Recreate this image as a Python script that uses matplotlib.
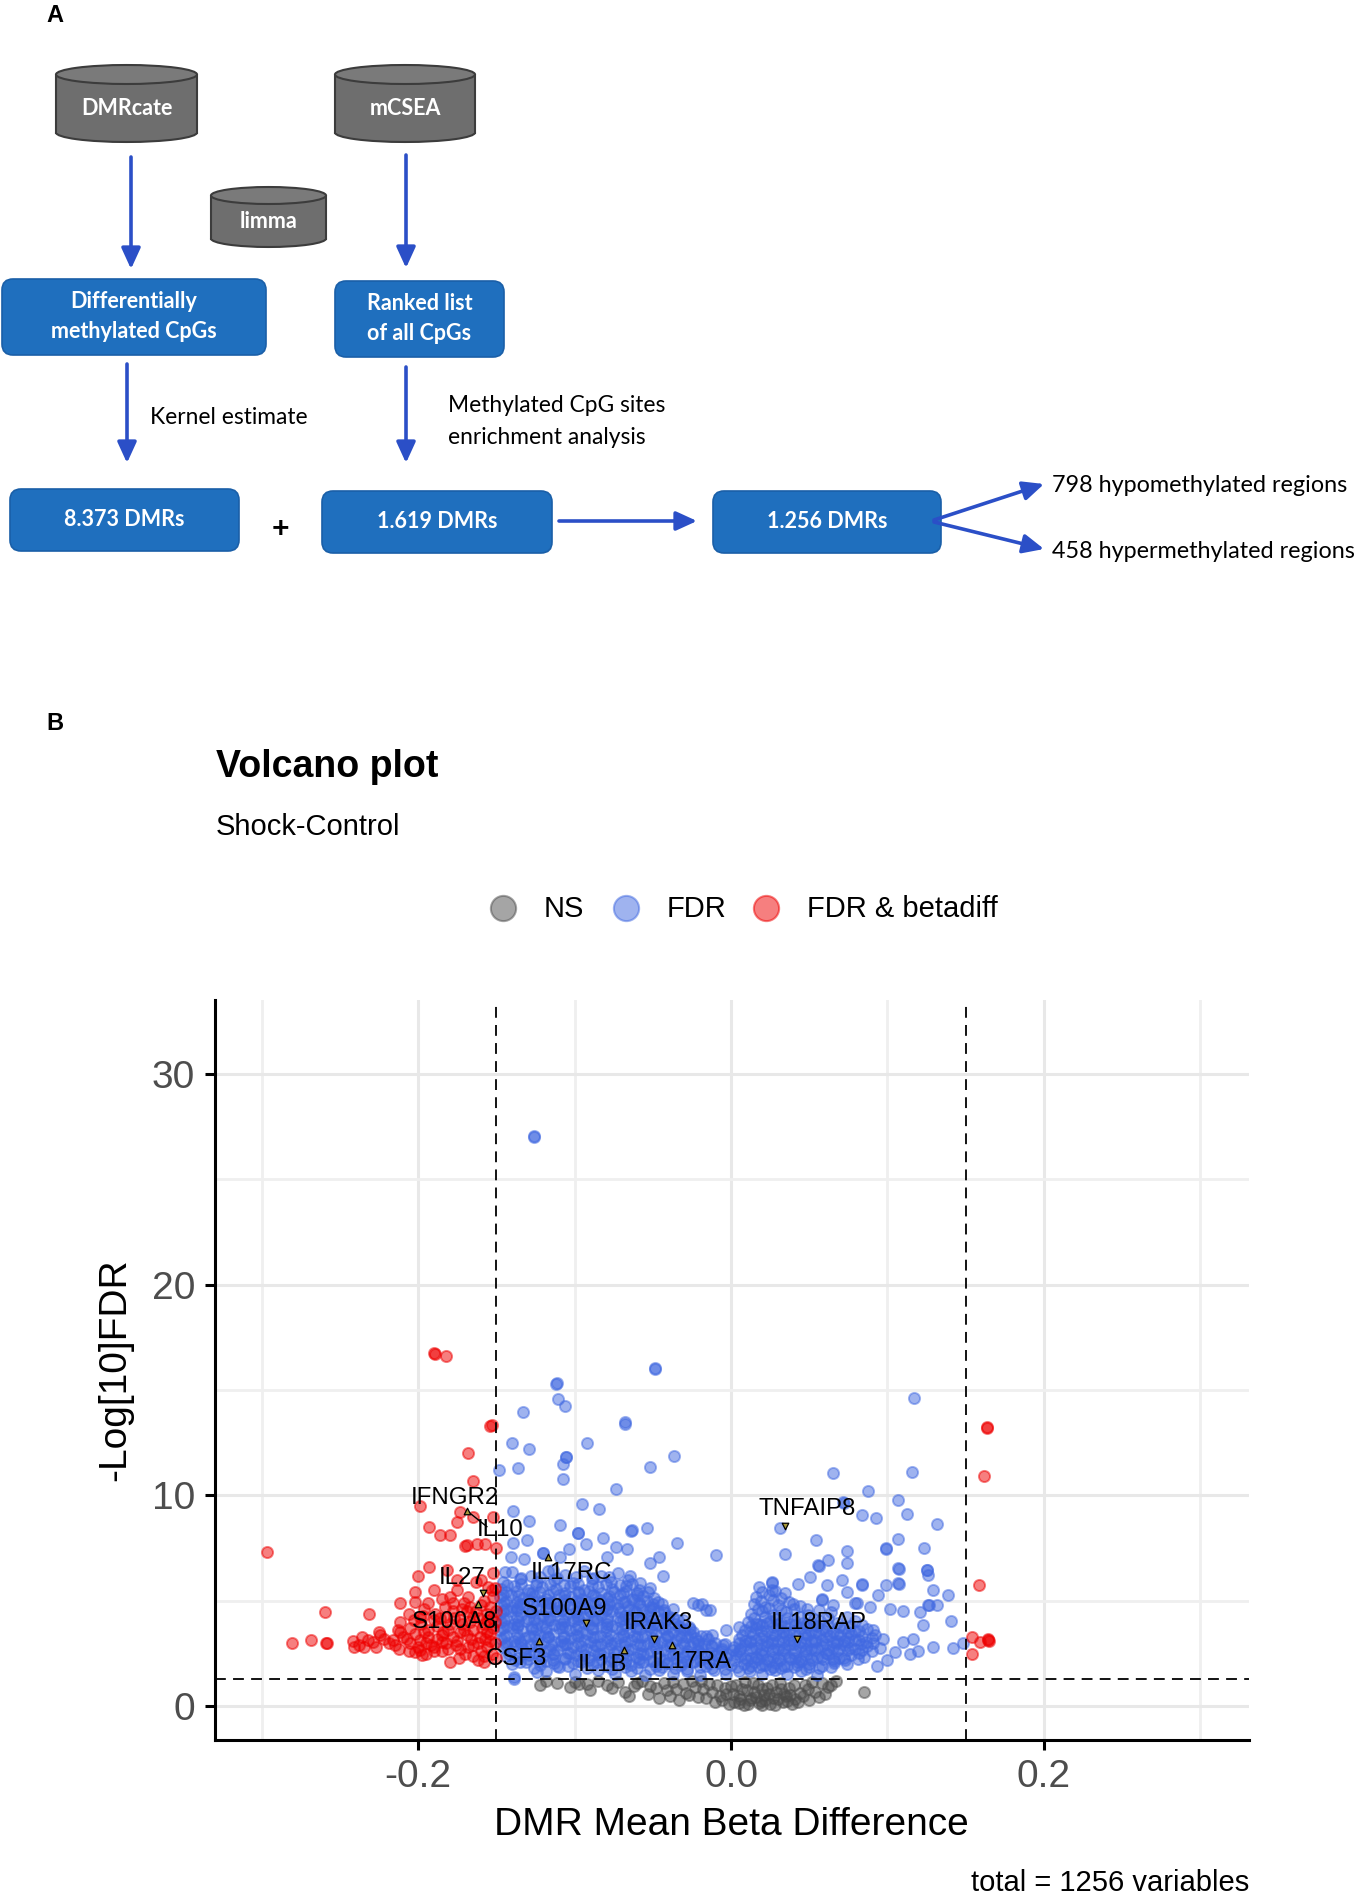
import matplotlib
matplotlib.use("Agg")
import matplotlib.pyplot as plt
from matplotlib.patches import Ellipse, Rectangle, FancyBboxPatch

plt.rcParams['font.family'] = ['Liberation Sans', 'DejaVu Sans']
plt.rcParams['axes.unicode_minus'] = False

# ---------------- data ----------------
categories = ["NS", "FDR", "FDR & betadiff"]
colors = {"NS": "#4D4D4D", "FDR": "#4169E1", "FDR & betadiff": "#EE0000"}

red_pts = [
    (-0.189, 16.7), (-0.190, 16.75), (-0.182, 16.6), (-0.154, 13.3), (-0.153, 13.35), (-0.168, 12.0),
    (-0.165, 10.7), (-0.199, 9.5), (-0.173, 9.23), (-0.1647, 9.0), (-0.152, 9.0), (-0.1929, 8.52),
    (-0.1862, 8.13), (-0.180, 8.13), (-0.1754, 8.76), (-0.169, 7.64), (-0.170, 7.6), (-0.1626, 7.72),
    (-0.1573, 7.72), (-0.150, 7.5), (-0.297, 7.33), (-0.1929, 6.62), (-0.200, 6.18), (-0.1818, 6.47),
    (-0.1754, 6.0), (-0.152, 6.3), (-0.1556, 5.67), (-0.2021, 5.43), (-0.190, 5.5), (-0.2115, 4.88),
    (-0.2021, 4.96), (-0.1935, 4.88), (-0.185, 5.1), (-0.1775, 4.88), (-0.171, 4.88), (-0.1668, 4.73),
    (-0.158, 5.0), (-0.154, 4.7), (-0.2596, 4.48), (-0.2313, 4.37), (-0.2117, 4.0), (-0.206, 4.4),
    (-0.1988, 4.25), (-0.190, 4.1), (-0.182, 4.25), (-0.1733, 4.1), (-0.165, 4.25), (-0.156, 4.1),
    (-0.152, 3.7), (-0.2115, 3.53), (-0.2021, 3.45), (-0.1935, 3.3), (-0.185, 3.37), (-0.1775, 3.3),
    (-0.169, 3.37), (-0.1605, 3.3), (-0.154, 3.45), (-0.2809, 3.0), (-0.2687, 3.14), (-0.2589, 2.98),
    (-0.2585, 3.0), (-0.232, 3.14), (-0.2345, 2.82), (-0.2286, 3.06), (-0.2243, 3.37), (-0.2162, 3.14),
    (-0.2053, 2.98), (-0.1988, 2.66), (-0.190, 2.82), (-0.182, 2.98), (-0.1733, 2.74), (-0.165, 2.9),
    (-0.156, 2.82), (-0.2021, 2.58), (-0.1977, 2.42), (-0.1796, 2.1), (-0.162, 2.2), (-0.153, 2.5),
    (-0.195, 3.0), (-0.185, 2.6), (-0.175, 3.1), (-0.165, 3.6), (-0.158, 3.9), (-0.188, 3.8),
    (-0.178, 4.5), (-0.168, 5.2), (-0.152, 5.2), (-0.160, 6.0), (-0.151, 4.0), (-0.151, 3.0),
    (-0.215, 2.9), (-0.222, 3.2), (-0.236, 3.3), (-0.238, 2.9), (-0.171, 3.6), (-0.194, 3.6),
    (-0.160, 2.6), (-0.185, 3.05), (-0.207, 3.2), (-0.157, 3.2),
    (-0.205, 3.7), (-0.198, 3.9), (-0.189, 4.4), (-0.181, 3.6), (-0.172, 3.9), (-0.163, 4.5),
    (-0.156, 4.4), (-0.150, 4.5), (-0.210, 3.3), (-0.199, 3.15), (-0.190, 2.6), (-0.181, 2.7),
    (-0.170, 2.5), (-0.158, 2.4), (-0.150, 2.3), (-0.212, 2.7), (-0.219, 3.0), (-0.227, 2.8),
    (-0.242, 3.1), (-0.241, 2.8), (-0.225, 3.5), (-0.167, 4.0), (-0.175, 5.5), (-0.163, 5.9),
    (-0.151, 5.6), (-0.172, 4.6), (-0.183, 4.7), (-0.196, 4.6), (-0.156, 3.5), (-0.162, 3.0),
    (-0.203, 4.1), (-0.196, 3.5), (-0.188, 3.2), (-0.180, 3.9), (-0.173, 3.5), (-0.166, 3.2),
    (-0.159, 3.7), (-0.153, 4.2), (-0.200, 2.8), (-0.192, 2.9), (-0.184, 3.5), (-0.176, 2.9),
    (-0.168, 2.8), (-0.161, 4.2), (-0.154, 3.1), (-0.197, 4.3), (-0.186, 4.2), (-0.177, 4.2),
    (-0.169, 4.5), (-0.160, 4.8), (-0.153, 5.5), (-0.180, 5.2), (-0.206, 2.6), (-0.213, 3.6),
    (-0.195, 2.5), (-0.174, 2.3), (-0.165, 2.4), (-0.158, 2.1),
    (0.1635, 13.24), (0.1637, 13.2), (0.1618, 10.94), (0.1588, 5.75), (0.154, 3.29), (0.1646, 3.14),
    (0.1650, 3.1), (0.1642, 3.18), (0.159, 3.06), (0.154, 2.5),
]

blue_pts = [
    # scattered, upper region
    (-0.126, 27.0), (-0.1262, 27.05), (-0.0486, 16.04), (-0.0488, 16.0), (-0.1115, 15.33), (-0.1117, 15.3),
    (-0.1104, 14.57), (-0.1061, 14.25), (-0.1332, 13.98), (-0.0678, 13.46), (-0.0680, 13.4), (-0.1403, 12.5),
    (-0.1291, 12.2), (-0.0920, 12.48), (-0.1055, 11.82), (-0.1057, 11.8), (-0.1077, 11.5), (-0.0362, 11.88),
    (-0.0519, 11.33), (-0.1483, 11.2), (-0.1364, 11.3), (-0.1073, 10.8), (-0.0735, 10.3), (-0.0951, 9.59),
    (-0.0842, 9.35), (-0.1396, 9.24), (-0.1291, 8.8), (-0.1095, 8.6), (-0.0977, 8.23), (-0.0979, 8.2),
    (-0.0816, 8.0), (-0.0635, 8.35), (-0.0637, 8.3), (-0.0540, 8.45), (-0.0345, 7.73), (-0.1392, 7.75),
    (-0.1306, 7.87), (-0.1200, 7.28), (-0.1202, 7.25), (-0.1035, 7.47), (-0.0925, 7.68), (-0.0735, 7.55),
    (-0.0665, 7.44), (-0.0460, 7.06), (-0.141, 7.1), (-0.1326, 7.0), (-0.1095, 7.1), (-0.0795, 7.1),
    (-0.0519, 6.8), (-0.1445, 6.38), (-0.114, 6.44), (-0.0646, 6.2), (-0.0438, 6.2), (-0.0208, 4.8),
    (-0.0099, 7.17), (-0.0245, 4.88), (-0.016, 4.56), (-0.0032, 3.6), (0.0053, 3.75), (-0.1386, 1.38),
    (-0.124, 1.63), (-0.139, 1.31), (-0.1115, 1.9), (-0.0188, 4.86), (-0.0134, 4.55),
    (0.117, 14.62), (0.065, 11.08), (0.1159, 11.1), (0.0878, 10.2), (0.107, 9.8), (0.0718, 9.7),
    (0.0720, 9.65), (0.0835, 9.08), (0.0927, 8.93), (0.1123, 9.12), (0.1319, 8.65), (0.0313, 8.44),
    (0.0541, 7.89), (0.1065, 7.94), (0.099, 7.5), (0.0992, 7.45), (0.1235, 7.5), (0.0739, 7.38),
    (0.0345, 7.2), (0.0623, 6.94), (0.0744, 6.81), (0.0559, 6.68), (0.0561, 6.65), (0.1070, 6.55),
    (0.1072, 6.5), (0.1251, 6.47), (0.1253, 6.45), (0.126, 6.24), (0.026, 5.9), (0.0262, 5.85),
    (0.0431, 5.78), (0.0505, 6.14), (0.0612, 5.74), (0.0708, 5.98), (0.0835, 5.78), (0.0837, 5.75),
    (0.099, 5.74), (0.107, 5.85), (0.1072, 5.8), (0.1294, 5.5), (0.1390, 5.27), (0.0345, 5.35),
    (0.0580, 5.1), (0.0582, 5.05), (0.0739, 5.4), (0.0942, 5.26), (0.1262, 4.82), (0.1264, 4.8),
    (0.1315, 4.78), (0.0399, 4.86), (0.0484, 4.6), (0.0654, 4.78), (0.0803, 4.92), (0.0889, 4.7),
    (0.1017, 4.62), (0.1102, 4.53), (0.1209, 4.47), (0.1406, 4.04), (0.1230, 3.85), (0.1294, 2.82),
    (0.1422, 2.75), (0.1486, 2.98), (0.1145, 2.5), (0.1198, 2.62), (0.1161, 3.21), (0.0974, 3.21),
    (0.0911, 3.6), (0.1100, 3.06), (0.0995, 2.2), (0.1049, 2.58), (0.0931, 1.89), (0.0740, 2.0),
    (0.0790, 4.91),
    # dense left cluster
    (-0.140, 6.35), (-0.128, 6.2), (-0.117, 6.4), (-0.106, 6.25), (-0.094, 6.4), (-0.083, 6.2), (-0.072, 6.3),
    (-0.134, 6.1), (-0.122, 6.15), (-0.111, 6.1), (-0.099, 6.15), (-0.088, 6.1), (-0.078, 6.15),
    (-0.146, 5.9), (-0.135, 6.05), (-0.124, 5.9), (-0.113, 6.0), (-0.101, 5.85), (-0.089, 6.05), (-0.077, 5.9),
    (-0.066, 6.0), (-0.058, 5.85),
    (-0.143, 5.75), (-0.134, 5.8), (-0.125, 5.75), (-0.116, 5.8), (-0.107, 5.75), (-0.098, 5.8), (-0.089, 5.75),
    (-0.080, 5.8), (-0.071, 5.75), (-0.063, 5.8),
    (-0.147, 5.55), (-0.139, 5.7), (-0.130, 5.5), (-0.121, 5.65), (-0.112, 5.55), (-0.103, 5.7), (-0.094, 5.5),
    (-0.085, 5.65), (-0.076, 5.55), (-0.067, 5.7), (-0.059, 5.5), (-0.052, 5.6),
    (-0.144, 5.4), (-0.137, 5.45), (-0.129, 5.35), (-0.122, 5.4), (-0.114, 5.45), (-0.106, 5.35), (-0.098, 5.4),
    (-0.091, 5.45), (-0.083, 5.35), (-0.075, 5.4), (-0.067, 5.45), (-0.060, 5.35), (-0.053, 5.4),
    (-0.146, 5.3), (-0.136, 5.25), (-0.127, 5.35), (-0.117, 5.3), (-0.107, 5.25), (-0.097, 5.35), (-0.088, 5.3),
    (-0.078, 5.25), (-0.069, 5.35), (-0.060, 5.3),
    (-0.148, 5.2), (-0.141, 5.3), (-0.133, 5.15), (-0.126, 5.25), (-0.118, 5.1), (-0.110, 5.3), (-0.102, 5.2),
    (-0.095, 5.1), (-0.087, 5.25), (-0.079, 5.15), (-0.071, 5.3), (-0.063, 5.1), (-0.056, 5.25), (-0.049, 5.15),
    (-0.144, 5.0), (-0.137, 4.95), (-0.129, 5.05), (-0.121, 5.0), (-0.114, 4.95), (-0.106, 5.05), (-0.099, 5.0),
    (-0.092, 4.95), (-0.084, 5.05), (-0.077, 5.0), (-0.069, 4.95), (-0.062, 5.05), (-0.054, 5.0), (-0.047, 4.95),
    (-0.145, 4.9), (-0.135, 4.85), (-0.126, 4.95), (-0.116, 4.9), (-0.107, 4.85), (-0.097, 4.95), (-0.087, 4.9),
    (-0.078, 4.85), (-0.068, 4.95), (-0.059, 4.9), (-0.050, 4.85),
    (-0.147, 4.8), (-0.140, 4.7), (-0.133, 4.85), (-0.125, 4.75), (-0.117, 4.9), (-0.110, 4.7), (-0.103, 4.85),
    (-0.096, 4.75), (-0.088, 4.9), (-0.081, 4.7), (-0.073, 4.85), (-0.066, 4.75), (-0.058, 4.8), (-0.051, 4.7),
    (-0.044, 4.85),
    (-0.144, 4.6), (-0.137, 4.65), (-0.130, 4.55), (-0.123, 4.6), (-0.116, 4.65), (-0.108, 4.55), (-0.101, 4.6),
    (-0.094, 4.65), (-0.086, 4.55), (-0.079, 4.6), (-0.072, 4.65), (-0.065, 4.55), (-0.057, 4.6), (-0.050, 4.65),
    (-0.043, 4.55), (-0.037, 4.6),
    (-0.146, 4.5), (-0.137, 4.55), (-0.128, 4.45), (-0.118, 4.5), (-0.109, 4.55), (-0.099, 4.45), (-0.090, 4.5),
    (-0.080, 4.55), (-0.071, 4.45), (-0.062, 4.5), (-0.052, 4.55), (-0.043, 4.45),
    (-0.148, 4.4), (-0.141, 4.5), (-0.134, 4.35), (-0.127, 4.45), (-0.120, 4.3), (-0.112, 4.5), (-0.105, 4.4),
    (-0.098, 4.3), (-0.090, 4.45), (-0.083, 4.35), (-0.076, 4.5), (-0.068, 4.3), (-0.061, 4.45), (-0.054, 4.35),
    (-0.047, 4.5), (-0.040, 4.3),
    (-0.144, 4.2), (-0.137, 4.25), (-0.130, 4.15), (-0.123, 4.2), (-0.116, 4.25), (-0.108, 4.15), (-0.101, 4.2),
    (-0.094, 4.25), (-0.087, 4.15), (-0.079, 4.2), (-0.072, 4.25), (-0.065, 4.15), (-0.058, 4.2), (-0.051, 4.25),
    (-0.044, 4.15), (-0.037, 4.2), (-0.031, 4.1),
    (-0.145, 4.1), (-0.136, 4.05), (-0.126, 4.15), (-0.117, 4.1), (-0.107, 4.05), (-0.098, 4.15), (-0.088, 4.1),
    (-0.079, 4.05), (-0.069, 4.15), (-0.060, 4.1), (-0.051, 4.05), (-0.041, 4.15), (-0.034, 4.1),
    (-0.147, 4.0), (-0.139, 3.9), (-0.131, 4.05), (-0.124, 3.95), (-0.116, 4.1), (-0.109, 3.9), (-0.101, 4.05),
    (-0.094, 3.95), (-0.086, 4.1), (-0.079, 3.9), (-0.071, 4.05), (-0.064, 3.95), (-0.057, 4.1), (-0.050, 3.9),
    (-0.043, 4.0), (-0.036, 3.9),
    (-0.143, 3.8), (-0.136, 3.85), (-0.128, 3.75), (-0.121, 3.8), (-0.113, 3.85), (-0.106, 3.75), (-0.098, 3.8),
    (-0.091, 3.85), (-0.083, 3.75), (-0.076, 3.8), (-0.068, 3.85), (-0.061, 3.75), (-0.054, 3.8), (-0.047, 3.85),
    (-0.040, 3.75), (-0.033, 3.8), (-0.027, 3.75),
    (-0.146, 3.7), (-0.137, 3.75), (-0.127, 3.65), (-0.118, 3.7), (-0.108, 3.75), (-0.099, 3.65), (-0.089, 3.7),
    (-0.080, 3.75), (-0.070, 3.65), (-0.061, 3.7), (-0.052, 3.75), (-0.042, 3.65), (-0.033, 3.7), (-0.026, 3.65),
    (-0.148, 3.6), (-0.140, 3.7), (-0.133, 3.55), (-0.125, 3.65), (-0.118, 3.5), (-0.110, 3.7), (-0.103, 3.6),
    (-0.095, 3.5), (-0.088, 3.65), (-0.080, 3.55), (-0.073, 3.7), (-0.065, 3.5), (-0.058, 3.65), (-0.051, 3.55),
    (-0.044, 3.7), (-0.037, 3.5), (-0.030, 3.6), (-0.024, 3.5),
    (-0.144, 3.4), (-0.137, 3.45), (-0.129, 3.35), (-0.122, 3.4), (-0.114, 3.45), (-0.107, 3.35), (-0.099, 3.4),
    (-0.092, 3.45), (-0.084, 3.35), (-0.077, 3.4), (-0.069, 3.45), (-0.062, 3.35), (-0.055, 3.4), (-0.048, 3.45),
    (-0.040, 3.35), (-0.033, 3.4), (-0.026, 3.45), (-0.019, 3.35), (-0.012, 3.4),
    (-0.145, 3.3), (-0.136, 3.25), (-0.126, 3.35), (-0.117, 3.3), (-0.107, 3.25), (-0.098, 3.35), (-0.088, 3.3),
    (-0.079, 3.25), (-0.069, 3.35), (-0.060, 3.3), (-0.050, 3.25), (-0.041, 3.35), (-0.032, 3.3), (-0.023, 3.25),
    (-0.016, 3.35),
    (-0.147, 3.2), (-0.139, 3.1), (-0.132, 3.25), (-0.124, 3.15), (-0.117, 3.3), (-0.109, 3.1), (-0.102, 3.25),
    (-0.094, 3.15), (-0.087, 3.3), (-0.079, 3.1), (-0.072, 3.25), (-0.064, 3.15), (-0.057, 3.3), (-0.049, 3.1),
    (-0.042, 3.25), (-0.035, 3.15), (-0.028, 3.3), (-0.021, 3.1), (-0.015, 3.2),
    (-0.143, 3.0), (-0.135, 3.05), (-0.128, 2.95), (-0.120, 3.0), (-0.113, 3.05), (-0.105, 2.95), (-0.098, 3.0),
    (-0.090, 3.05), (-0.083, 2.95), (-0.075, 3.0), (-0.068, 3.05), (-0.060, 2.95), (-0.053, 3.0), (-0.045, 3.05),
    (-0.038, 2.95), (-0.031, 3.0), (-0.024, 3.05), (-0.017, 2.95), (-0.010, 3.0), (-0.004, 2.95),
    (-0.144, 2.9), (-0.134, 2.95), (-0.125, 2.85), (-0.115, 2.9), (-0.106, 2.95), (-0.096, 2.85), (-0.087, 2.9),
    (-0.077, 2.95), (-0.068, 2.85), (-0.058, 2.9), (-0.049, 2.95), (-0.039, 2.85), (-0.030, 2.9), (-0.021, 2.95),
    (-0.013, 2.85), (-0.005, 2.9),
    (-0.146, 2.8), (-0.138, 2.9), (-0.131, 2.75), (-0.123, 2.85), (-0.116, 2.7), (-0.108, 2.9), (-0.101, 2.8),
    (-0.093, 2.7), (-0.086, 2.85), (-0.078, 2.75), (-0.071, 2.9), (-0.063, 2.7), (-0.056, 2.85), (-0.048, 2.75),
    (-0.041, 2.9), (-0.034, 2.7), (-0.026, 2.85), (-0.019, 2.75), (-0.012, 2.85), (-0.006, 2.7),
    (-0.141, 2.6), (-0.133, 2.65), (-0.126, 2.55), (-0.118, 2.6), (-0.111, 2.65), (-0.103, 2.55), (-0.096, 2.6),
    (-0.088, 2.65), (-0.081, 2.55), (-0.073, 2.6), (-0.066, 2.65), (-0.058, 2.55), (-0.051, 2.6), (-0.043, 2.65),
    (-0.036, 2.55), (-0.028, 2.6), (-0.021, 2.65), (-0.013, 2.55), (-0.006, 2.6), (0.001, 2.65),
    (-0.142, 2.5), (-0.132, 2.55), (-0.123, 2.45), (-0.113, 2.5), (-0.104, 2.55), (-0.094, 2.45), (-0.085, 2.5),
    (-0.075, 2.55), (-0.066, 2.45), (-0.056, 2.5), (-0.047, 2.55), (-0.037, 2.45), (-0.028, 2.5), (-0.019, 2.55),
    (-0.010, 2.45), (-0.002, 2.5),
    (-0.144, 2.4), (-0.136, 2.3), (-0.129, 2.45), (-0.121, 2.35), (-0.114, 2.5), (-0.106, 2.3), (-0.099, 2.45),
    (-0.091, 2.35), (-0.084, 2.5), (-0.076, 2.3), (-0.069, 2.45), (-0.061, 2.35), (-0.054, 2.5), (-0.046, 2.3),
    (-0.039, 2.45), (-0.031, 2.35), (-0.024, 2.5), (-0.016, 2.3), (-0.009, 2.45), (-0.003, 2.35), (0.003, 2.5),
    (-0.138, 2.2), (-0.130, 2.25), (-0.122, 2.15), (-0.114, 2.2), (-0.106, 2.25), (-0.098, 2.15), (-0.091, 2.2),
    (-0.083, 2.25), (-0.075, 2.15), (-0.067, 2.2), (-0.059, 2.25), (-0.051, 2.15), (-0.043, 2.2), (-0.035, 2.25),
    (-0.028, 2.15), (-0.020, 2.2), (-0.012, 2.25), (-0.005, 2.15), (0.002, 2.2),
    (-0.135, 2.1), (-0.118, 2.15), (-0.101, 2.05), (-0.086, 2.1), (-0.077, 2.15), (-0.068, 2.05), (-0.059, 2.1),
    (-0.050, 2.15), (-0.041, 2.05), (-0.032, 2.1), (-0.023, 2.15), (-0.014, 2.05), (-0.005, 2.1),
    (-0.140, 2.0), (-0.131, 2.1), (-0.122, 1.95), (-0.113, 2.05), (-0.104, 1.9), (-0.096, 2.1), (-0.088, 2.0),
    (-0.080, 1.9), (-0.072, 2.05), (-0.064, 1.95), (-0.056, 2.1), (-0.048, 1.9), (-0.040, 2.05), (-0.032, 1.95),
    (-0.024, 2.1), (-0.016, 1.9), (-0.008, 2.05), (0.000, 1.95),
    (-0.126, 1.8), (-0.110, 1.85), (-0.092, 1.8), (-0.076, 1.75), (-0.068, 1.85), (-0.060, 1.8), (-0.052, 1.75),
    (-0.044, 1.85), (-0.036, 1.8), (-0.028, 1.75), (-0.020, 1.85), (-0.012, 1.8), (-0.004, 1.75), (0.004, 1.85),
    (-0.118, 1.65), (-0.100, 1.55), (-0.085, 1.7), (-0.074, 1.55), (-0.064, 1.65), (-0.055, 1.5), (-0.046, 1.7),
    (-0.037, 1.55), (-0.028, 1.65), (-0.020, 1.5), (-0.011, 1.7), (-0.003, 1.55), (0.005, 1.65),
    # dense right cluster
    (0.018, 5.65), (0.026, 5.5),
    (0.020, 5.4), (0.028, 5.45),
    (0.016, 5.2), (0.024, 5.3), (0.032, 5.15),
    (0.019, 5.0), (0.027, 5.05), (0.037, 4.95),
    (0.015, 4.85), (0.022, 4.7), (0.030, 4.8), (0.044, 4.75),
    (0.017, 4.6), (0.024, 4.65), (0.032, 4.55), (0.040, 4.6), (0.056, 4.55),
    (0.013, 4.4), (0.020, 4.5), (0.027, 4.35), (0.035, 4.45), (0.049, 4.35), (0.064, 4.45),
    (0.015, 4.2), (0.022, 4.25), (0.029, 4.15), (0.036, 4.2), (0.044, 4.25), (0.053, 4.15), (0.062, 4.2),
    (0.074, 4.25),
    (0.011, 4.0), (0.018, 3.9), (0.025, 4.05), (0.032, 3.95), (0.040, 4.1), (0.048, 3.9), (0.057, 4.05),
    (0.068, 3.95), (0.079, 4.05),
    (0.016, 3.9), (0.023, 3.95), (0.030, 3.85), (0.038, 3.9), (0.046, 3.95), (0.053, 3.85),
    (0.013, 3.8), (0.020, 3.85), (0.027, 3.75), (0.034, 3.8), (0.041, 3.85), (0.048, 3.75), (0.055, 3.8),
    (0.062, 3.85), (0.069, 3.75), (0.076, 3.8), (0.084, 3.85),
    (0.009, 3.6), (0.016, 3.7), (0.023, 3.55), (0.030, 3.65), (0.037, 3.5), (0.044, 3.7), (0.051, 3.55),
    (0.058, 3.65), (0.065, 3.5), (0.072, 3.7), (0.079, 3.55), (0.087, 3.65),
    (0.012, 3.5), (0.019, 3.55), (0.026, 3.45), (0.033, 3.5), (0.040, 3.55), (0.047, 3.45), (0.054, 3.5),
    (0.061, 3.55), (0.068, 3.45), (0.075, 3.5), (0.082, 3.55),
    (0.007, 3.4), (0.014, 3.45), (0.021, 3.35), (0.028, 3.4), (0.035, 3.45), (0.042, 3.35), (0.049, 3.4),
    (0.056, 3.45), (0.063, 3.35), (0.070, 3.4), (0.077, 3.45), (0.084, 3.35), (0.092, 3.4),
    (0.005, 3.2), (0.012, 3.1), (0.019, 3.25), (0.026, 3.15), (0.033, 3.3), (0.040, 3.1), (0.047, 3.25),
    (0.054, 3.15), (0.061, 3.3), (0.068, 3.1), (0.075, 3.25), (0.082, 3.15), (0.090, 3.25),
    (0.009, 3.1), (0.016, 3.15), (0.023, 3.05), (0.030, 3.1), (0.037, 3.15), (0.044, 3.05), (0.051, 3.1),
    (0.058, 3.15), (0.065, 3.05), (0.072, 3.1), (0.079, 3.15), (0.086, 3.05),
    (0.005, 3.0), (0.012, 3.05), (0.019, 2.95), (0.026, 3.0), (0.033, 3.05), (0.040, 2.95), (0.047, 3.0),
    (0.054, 3.05), (0.061, 2.95), (0.068, 3.0), (0.075, 3.05), (0.083, 2.95), (0.091, 3.0),
    (0.002, 2.8), (0.009, 2.9), (0.016, 2.75), (0.023, 2.85), (0.030, 2.7), (0.037, 2.9), (0.044, 2.8),
    (0.051, 2.7), (0.058, 2.85), (0.065, 2.75), (0.072, 2.9), (0.079, 2.7), (0.087, 2.85), (0.095, 2.75),
    (0.006, 2.7), (0.013, 2.75), (0.020, 2.65), (0.027, 2.7), (0.034, 2.75), (0.041, 2.65), (0.048, 2.7),
    (0.055, 2.75), (0.062, 2.65), (0.069, 2.7), (0.076, 2.75), (0.084, 2.65),
    (0.005, 2.6), (0.012, 2.65), (0.019, 2.55), (0.026, 2.6), (0.033, 2.65), (0.040, 2.55), (0.047, 2.6),
    (0.054, 2.65), (0.061, 2.55), (0.068, 2.6), (0.075, 2.65), (0.082, 2.55), (0.090, 2.6),
    (0.006, 2.4), (0.013, 2.3), (0.020, 2.45), (0.027, 2.35), (0.034, 2.5), (0.041, 2.3), (0.048, 2.45),
    (0.055, 2.35), (0.062, 2.5), (0.069, 2.3), (0.077, 2.45), (0.085, 2.35),
    (0.009, 2.3), (0.016, 2.35), (0.023, 2.25), (0.030, 2.3), (0.037, 2.35), (0.044, 2.25), (0.051, 2.3),
    (0.058, 2.35), (0.065, 2.25), (0.072, 2.3),
    (0.010, 2.2), (0.017, 2.25), (0.024, 2.15), (0.031, 2.2), (0.038, 2.25), (0.045, 2.15), (0.052, 2.2),
    (0.059, 2.25), (0.066, 2.15), (0.073, 2.2), (0.081, 2.25),
    (0.008, 2.0), (0.015, 2.1), (0.022, 1.95), (0.029, 2.05), (0.036, 1.9), (0.043, 2.1), (0.050, 2.0),
    (0.058, 1.9), (0.066, 2.05),
    (0.013, 1.9), (0.020, 1.95), (0.027, 1.85), (0.034, 1.9), (0.042, 1.95), (0.050, 1.85),
    (0.011, 1.8), (0.018, 1.85), (0.025, 1.75), (0.032, 1.8), (0.040, 1.85), (0.048, 1.75), (0.056, 1.8),
    (0.064, 1.85),
    (0.012, 1.65), (0.020, 1.55), (0.028, 1.7), (0.036, 1.55), (0.045, 1.65), (0.055, 1.5),
]

ns_pts = [
    (-0.122, 1.0), (-0.111, 1.1), (-0.103, 0.9), (-0.097, 1.05), (-0.090, 0.75), (-0.085, 1.2), (-0.079, 1.0),
    (-0.072, 1.15), (-0.068, 0.7), (-0.062, 0.95), (-0.057, 1.2), (-0.053, 0.6), (-0.048, 0.85), (-0.043, 1.1),
    (-0.039, 0.5), (-0.035, 0.8), (-0.031, 1.05), (-0.027, 0.55), (-0.023, 0.9), (-0.019, 1.2), (-0.016, 0.4),
    (-0.012, 0.7), (-0.009, 1.0), (-0.006, 0.3), (-0.003, 0.6), (0.000, 0.95), (0.002, 0.2), (0.005, 0.5),
    (0.007, 0.8), (0.009, 1.15), (0.011, 0.1), (0.013, 0.4), (0.015, 0.7), (0.017, 1.0), (0.019, 0.25),
    (0.021, 0.55), (0.023, 0.85), (0.025, 0.1), (0.027, 0.4), (0.029, 0.7), (0.031, 1.1), (0.033, 0.2),
    (0.035, 0.5), (0.037, 0.85), (0.039, 0.1), (0.041, 0.35), (0.044, 0.65), (0.047, 1.0), (0.050, 0.3),
    (0.054, 0.7), (0.058, 1.1), (0.062, 0.9), (0.067, 1.2), (0.085, 0.7), (0.005, 0.15), (0.020, 0.05),
    (-0.065, 0.5), (-0.060, 1.1), (-0.052, 0.95), (-0.046, 0.4), (-0.041, 0.75), (-0.037, 1.15), (-0.033, 0.3),
    (-0.029, 0.65), (-0.025, 1.2), (-0.021, 0.45), (-0.018, 0.8), (-0.014, 1.05), (-0.010, 0.2), (-0.007, 0.5),
    (-0.004, 0.85), (-0.001, 0.1), (0.001, 0.6), (0.003, 1.0), (0.006, 0.35), (0.008, 0.05), (0.010, 0.75),
    (0.012, 0.3), (0.014, 1.1), (0.016, 0.45), (0.018, 0.15), (0.020, 0.8), (0.022, 0.3), (0.024, 0.6),
    (0.026, 1.0), (0.028, 0.05), (0.030, 0.35), (0.032, 0.8), (0.034, 0.6), (0.036, 0.25), (0.038, 0.55),
    (0.040, 1.0), (0.043, 0.2), (0.046, 0.5), (0.049, 0.8), (0.052, 1.15), (0.056, 0.45), (0.060, 0.6),
    (0.064, 1.0), (-0.100, 1.15), (-0.092, 1.05), (-0.076, 0.85), (-0.118, 1.2),
]

gene_labels = ["IFNGR2", "IL10", "IL27", "S100A8", "CSF3", "IL17RC", "S100A9",
               "IRAK3", "IL1B", "IL17RA", "TNFAIP8", "IL18RAP"]
label_x = [-0.1765, -0.1477, -0.1722, -0.1765, -0.137, -0.1019, -0.1061,
           -0.0465, -0.082, -0.0251, 0.0484, 0.0558]
label_y = [9.87, 8.36, 6.07, 4.0, 2.22, 6.3, 4.63, 3.93, 1.95, 2.1, 9.34, 3.96]
gene_x = [-0.169, None, -0.1588, -0.1616, -0.1228, -0.1168, -0.0927,
          -0.0492, -0.0684, -0.0379, 0.0345, 0.042]
gene_y = [9.28, None, 5.35, 4.84, 3.1, 7.09, 3.96, 3.21, 2.66, 2.9, 8.55, 3.21]
gene_marker = ["^", None, "v", "^", "^", "^", "v", "v", "^", "^", "v", "v"]

fc_cut = 0.15
p_cut = 1.301
total_n = 1256

# ---------------- figure ----------------
W, H = 1358, 1903
fig = plt.figure(figsize=(W / 100, H / 100), dpi=100)

ov = fig.add_axes([0, 0, 1, 1], zorder=0)
ov.set_xlim(0, W)
ov.set_ylim(H, 0)
ov.axis('off')

FC = ['Lato', 'DejaVu Sans']
box_blue = '#1F6FBE'
arrow_c = '#2B4FC7'

def cylinder(x0, x1, ytop, ybot, eh, label, fs):
    w = x1 - x0
    cx = (x0 + x1) / 2
    body, top, edge = '#6E6E6E', '#7A7A7A', '#3C3C3C'
    ov.add_patch(Ellipse((cx, ybot - eh / 2), w, eh, fc=body, ec=edge, lw=1.5, zorder=2))
    ov.add_patch(Rectangle((x0, ytop + eh / 2), w, (ybot - eh / 2) - (ytop + eh / 2), fc=body, ec='none', zorder=3))
    ov.plot([x0, x0], [ytop + eh / 2, ybot - eh / 2], color=edge, lw=1.5, zorder=4)
    ov.plot([x1, x1], [ytop + eh / 2, ybot - eh / 2], color=edge, lw=1.5, zorder=4)
    ov.add_patch(Ellipse((cx, ytop + eh / 2), w, eh, fc=top, ec=edge, lw=1.5, zorder=5))
    ov.text(cx, (ytop + ybot) / 2 + 5, label, color='white', fontsize=fs, fontweight='bold',
            family=FC, ha='center', va='center', zorder=6)

def box(x0, x1, y0, y1, lines, fs):
    ov.add_patch(FancyBboxPatch((x0, y0), x1 - x0, y1 - y0,
                                boxstyle='round,pad=0,rounding_size=11',
                                fc=box_blue, ec='#1A5FA8', lw=1.2, zorder=2))
    n = len(lines)
    cy = (y0 + y1) / 2
    step = 30
    for i, t in enumerate(lines):
        yy = cy + (i - (n - 1) / 2) * step
        ov.text((x0 + x1) / 2, yy, t, color='white', fontsize=fs, fontweight='bold',
                family=FC, ha='center', va='center', zorder=3)

def arrow(p0, p1):
    ov.annotate('', xy=p1, xytext=p0,
                arrowprops=dict(arrowstyle='-|>,head_length=0.7,head_width=0.32', color=arrow_c,
                                lw=2.6, shrinkA=0, shrinkB=0, mutation_scale=18), zorder=3)

# panel A
ov.text(55, 16, 'A', fontsize=17, fontweight='bold', ha='center', va='center')
cylinder(56, 197, 65, 142, 19, 'DMRcate', 15.5)
cylinder(335, 475, 65, 142, 19, 'mCSEA', 15.5)
cylinder(211, 326, 187, 247, 17, 'limma', 15.5)
arrow((131, 157), (131, 269))
arrow((406, 155), (406, 268))
box(2, 266, 279, 355, ['Differentially', 'methylated CpGs'], 15.5)
box(335, 504, 281, 357, ['Ranked list', 'of all CpGs'], 15.5)
arrow((127, 364), (127, 463))
arrow((406, 367), (406, 463))
ov.text(150, 417, 'Kernel estimate', fontsize=16.4, family=FC, ha='left', va='center')
ov.text(448, 405, 'Methylated CpG sites', fontsize=16.4, family=FC, ha='left', va='center')
ov.text(448, 437, 'enrichment analysis', fontsize=16.4, family=FC, ha='left', va='center')
box(10, 239, 489, 551, ['8.373 DMRs'], 15.5)
ov.text(280, 529, '+', fontsize=22, family=FC, fontweight='bold', ha='center', va='center')
box(322, 552, 491, 553, ['1.619 DMRs'], 15.5)
arrow((559, 521), (697, 521))
box(713, 941, 491, 553, ['1.256 DMRs'], 15.5)
arrow((934, 520), (1044, 484))
arrow((934, 522), (1044, 549))
ov.text(1052, 485, '798 hypomethylated regions', fontsize=16.8, family=FC, ha='left', va='center')
ov.text(1052, 551, '458 hypermethylated regions', fontsize=16.8, family=FC, ha='left', va='center')

# panel B texts
ov.text(55, 724, 'B', fontsize=17, fontweight='bold', ha='center', va='center')
ov.text(216, 767, 'Volcano plot', fontsize=27, fontweight='bold', ha='left', va='center')
ov.text(216, 827, 'Shock-Control', fontsize=21, ha='left', va='center')

leg_cx = [503, 626, 766]
leg_tx = [544, 667, 807]
for c, cx, tx in zip(categories, leg_cx, leg_tx):
    ov.scatter([cx], [908], s=330, color=colors[c], alpha=0.5, edgecolors=colors[c], linewidths=1.5, zorder=3)
    ov.text(tx, 909, c, fontsize=21, ha='left', va='center')

# volcano axes
L, R, T, B = 214.6, 1249, 1000, 1740
ax = fig.add_axes([L / W, 1 - B / H, (R - L) / W, (B - T) / H], zorder=1)
ax.patch.set_alpha(0)
ax.set_xlim(-0.3302, 0.3312)
ax.set_ylim(-1.6, 33.5)

ax.set_xticks([-0.2, 0.0, 0.2])
ax.set_xticklabels(['-0.2', '0.0', '0.2'])
ax.set_yticks([0, 10, 20, 30])
ax.set_xticks([-0.3, -0.1, 0.1, 0.3], minor=True)
ax.set_yticks([5, 15, 25], minor=True)
ax.grid(True, which='major', color='#E8E8E8', lw=2.2, zorder=0)
ax.grid(True, which='minor', color='#EFEFEF', lw=2.0, zorder=0)
ax.set_axisbelow(True)
ax.tick_params(which='major', length=7, width=2.2, color='black', labelsize=28, labelcolor='#4D4D4D', pad=7)
ax.tick_params(which='minor', length=0)
for s in ['top', 'right']:
    ax.spines[s].set_visible(False)
for s in ['left', 'bottom']:
    ax.spines[s].set_linewidth(2.2)
    ax.spines[s].set_color('black')

for name, pts in [('NS', ns_pts), ('FDR', blue_pts), ('FDR & betadiff', red_pts)]:
    xs = [p[0] for p in pts]
    ys = [p[1] for p in pts]
    ax.scatter(xs, ys, s=64, color=colors[name], alpha=0.5, edgecolors=colors[name],
               linewidths=1.4, zorder=3)

ax.axvline(-fc_cut, color='black', lw=1.3, ls=(0, (6, 4)), zorder=4)
ax.axvline(fc_cut, color='black', lw=1.3, ls=(0, (6, 4)), zorder=4)
ax.axhline(p_cut, color='black', lw=1.3, ls=(0, (6, 4)), zorder=4)

# labels
ax.plot([-0.1561, gene_x[0]], [8.52, gene_y[0]], color='black', lw=1.0, zorder=5)
for g, lx, ly, gx, gy, m in zip(gene_labels, label_x, label_y, gene_x, gene_y, gene_marker):
    if gx is not None:
        ax.scatter([gx], [gy], marker=m, s=22, facecolor='#A89A3A', edgecolor='black', linewidths=0.9, zorder=6)
    ax.text(lx, ly, g, fontsize=17.3, color='black', ha='center', va='center', zorder=7)

fig.text(115 / W, 1 - 1370 / H, '-Log[10]FDR', rotation=90, fontsize=28, ha='center', va='center')
fig.text(731 / W, 1 - 1825 / H, 'DMR Mean Beta Difference', fontsize=28, ha='center', va='center')
fig.text(R / W, 1 - 1883 / H, f'total = {total_n} variables', fontsize=21, ha='right', va='center')

fig.savefig('out.png', dpi=100)
